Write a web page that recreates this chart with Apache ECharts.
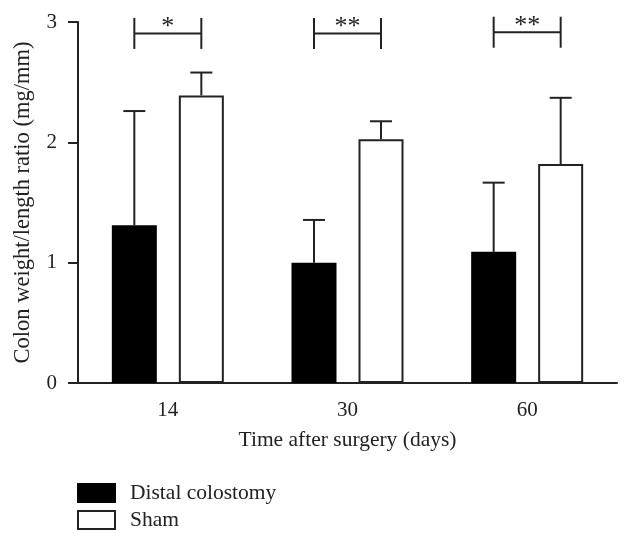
<!DOCTYPE html>
<html><head><meta charset="utf-8">
<script src="https://cdn.jsdelivr.net/npm/echarts@6/dist/echarts.min.js"></script>
<style>html,body{margin:0;padding:0;background:#fff}#c{width:632px;height:541px}</style>
</head><body><div id="c"></div>
<script>
// ---- data ----
const categories = ['14', '30', '60'];
const colostomyMean = [1.31, 1.00, 1.09];
const colostomyErr = [0.95, 0.355, 0.575];
const shamMean = [2.39, 2.025, 1.82];
const shamErr = [0.19, 0.15, 0.55];
const sigLabels = ['*', '**', '**'];
const sigLevel = [2.905, 2.905, 2.915];
const seriesNames = ['Distal colostomy', 'Sham'];
const yMin = 0, yMax = 3, yStep = 1;

// ---- style ----
const FONT = 'Liberation Serif';
const INK = '#222';
const BAR_W = 45, GAP = 22, CAP = 22, BR_HALF = 15.5;
const OFF = (BAR_W + GAP) / 2;

function errRender(sign) {
  return function (params, api) {
    const ci = api.value(0), m = api.value(1), e = api.value(2);
    const b = api.coord([ci, m]);
    const t = api.coord([ci, m + e]);
    const x = b[0] + sign * OFF;
    return { type: 'group', children: [
      { type: 'line', shape: { x1: x, y1: b[1], x2: x, y2: t[1] }, style: { stroke: INK, lineWidth: 2 } },
      { type: 'line', shape: { x1: x - CAP / 2, y1: t[1], x2: x + CAP / 2, y2: t[1] }, style: { stroke: INK, lineWidth: 2 } }
    ]};
  };
}

function sigRender(params, api) {
  const ci = api.value(0), lv = api.value(1);
  const c = api.coord([ci, lv]);
  const xl = c[0] - OFF, xr = c[0] + OFF, y = c[1];
  return { type: 'group', children: [
    { type: 'line', shape: { x1: xl, y1: y, x2: xr, y2: y }, style: { stroke: INK, lineWidth: 2 } },
    { type: 'line', shape: { x1: xl, y1: y - BR_HALF, x2: xl, y2: y + BR_HALF }, style: { stroke: INK, lineWidth: 2 } },
    { type: 'line', shape: { x1: xr, y1: y - BR_HALF, x2: xr, y2: y + BR_HALF }, style: { stroke: INK, lineWidth: 2 } },
    { type: 'text', x: c[0], y: y - 6, style: { text: sigLabels[params.dataIndex], fill: INK, font: '26px ' + FONT, textAlign: 'center', textVerticalAlign: 'middle' } }
  ]};
}

const legendBase = {
  orient: 'vertical', left: 72,
  icon: 'rect', itemWidth: 37, itemHeight: 18,
  textStyle: { fontFamily: FONT, fontSize: 21.5, color: INK, padding: [0, 0, 0, 10] }
};

const chart = echarts.init(document.getElementById('c'), null, { renderer: 'canvas' });
chart.setOption({
  animation: false,
  backgroundColor: '#fff',
  textStyle: { fontFamily: FONT, color: INK },
  grid: { left: 78, right: 15, top: 22, bottom: 158, containLabel: false },
  legend: [
    Object.assign({}, legendBase, { top: 477, data: [seriesNames[0]] }),
    Object.assign({}, legendBase, { top: 504, data: [seriesNames[1]] })
  ],
  xAxis: {
    type: 'category', data: categories,
    name: 'Time after surgery (days)', nameLocation: 'middle', nameGap: 46,
    nameTextStyle: { fontFamily: FONT, fontSize: 21.5, color: INK },
    axisLine: { lineStyle: { color: INK, width: 2 } },
    axisTick: { alignWithLabel: true, length: 10, lineStyle: { color: INK, width: 2 } },
    axisLabel: { fontFamily: FONT, fontSize: 21, color: INK, margin: 17 },
    splitLine: { show: false }
  },
  yAxis: {
    type: 'value', min: yMin, max: yMax, interval: yStep,
    name: 'Colon weight/length ratio (mg/mm)', nameLocation: 'middle', nameGap: 43,
    nameTextStyle: { fontFamily: FONT, fontSize: 22.5, color: INK },
    axisLine: { show: true, lineStyle: { color: INK, width: 2 } },
    axisTick: { show: true, length: 10, lineStyle: { color: INK, width: 2 } },
    axisLabel: { fontFamily: FONT, fontSize: 21, color: INK, margin: 21 },
    splitLine: { show: false }
  },
  series: [
    { name: seriesNames[0], type: 'bar', data: colostomyMean, barWidth: BAR_W, barGap: (GAP / BAR_W * 100) + '%',
      itemStyle: { color: '#000', borderColor: '#000', borderWidth: 2 } },
    { name: seriesNames[1], type: 'bar', data: shamMean, barWidth: BAR_W,
      itemStyle: { color: '#fff', borderColor: INK, borderWidth: 2 } },
    { type: 'custom', renderItem: errRender(-1), data: categories.map((c, i) => [i, colostomyMean[i], colostomyErr[i]]), z: 3, clip: false },
    { type: 'custom', renderItem: errRender(1), data: categories.map((c, i) => [i, shamMean[i], shamErr[i]]), z: 3, clip: false },
    { type: 'custom', renderItem: sigRender, data: categories.map((c, i) => [i, sigLevel[i]]), z: 4, clip: false }
  ]
});
</script></body></html>
